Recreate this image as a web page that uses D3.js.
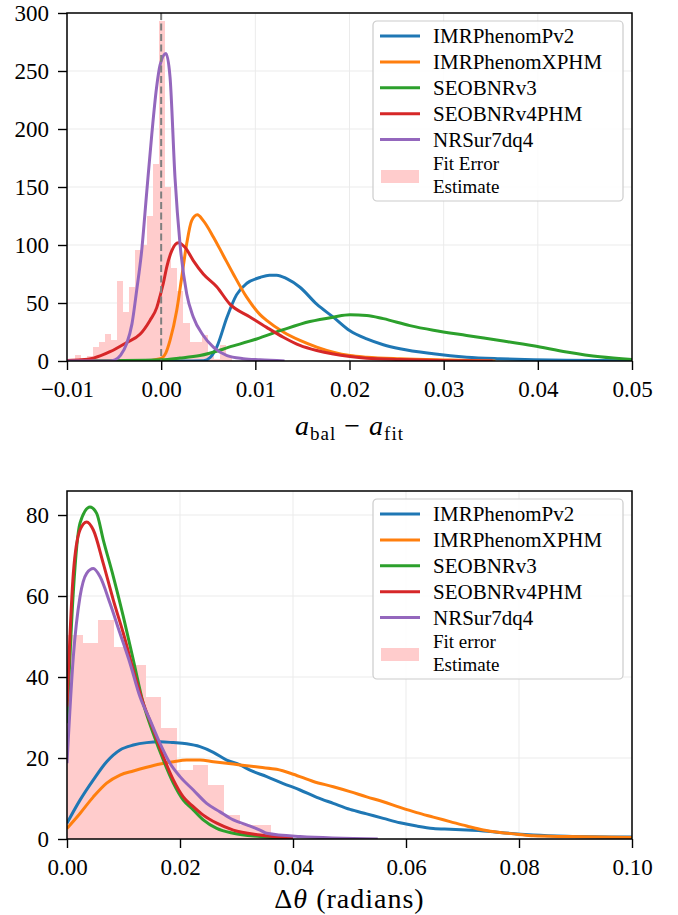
<!DOCTYPE html>
<html>
<head>
<meta charset="utf-8">
<script src="https://cdn.jsdelivr.net/npm/d3@7"></script>
<style>
  body { margin: 0; background: #fff; }
  svg { display: block; }
  text { font-family: "Liberation Serif", "Times New Roman", serif; fill: #000; }
</style>
</head>
<body>
<svg id="chart" width="678" height="915"></svg>
<script>
// ---- data ----
var modelNames = ["IMRPhenomPv2", "IMRPhenomXPHM", "SEOBNRv3", "SEOBNRv4PHM", "NRSur7dq4"];
var modelColors = ["#1f77b4", "#ff7f0e", "#2ca02c", "#d62728", "#9467bd"];

// top panel: a_bal - a_fit
var topXTicks = [-0.01, 0.00, 0.01, 0.02, 0.03, 0.04, 0.05];
var topYTicks = [0, 50, 100, 150, 200, 250, 300];
var topHistStart = -0.00915, topHistStep = 0.00064;
var topHistCounts = [5, 1.5, 4, 12.5, 16, 23, 18, 69, 42, 64, 96, 100, 125, 170, 293, 150, 80, 60, 33, 16, 16, 22, 6, 2, 14, 4];

var topPv2 = [[-0.01,0],[0.002,0],[0.0045,0.3],[0.0052,3],[0.0059,12],[0.0070,38],[0.0080,57],[0.0091,67],[0.0105,72],[0.0115,74],[0.01227,74],[0.01333,71],[0.01474,63.6],[0.01652,49],[0.01828,37.8],[0.02005,26],[0.02183,19],[0.02359,14],[0.02536,10.5],[0.0289,6.2],[0.03244,3.3],[0.03598,1.9],[0.03952,1],[0.04306,0.6],[0.05,0.3]];
var topXphm = [[-0.01,0],[-0.002,0],[-0.0001,2],[0.0005,7],[0.00094,17.7],[0.00165,43.5],[0.00218,72],[0.00271,101],[0.00324,121],[0.00384,126],[0.00447,121],[0.00554,107],[0.0066,91],[0.00766,75],[0.00908,55],[0.0105,40],[0.0112,35],[0.01297,25],[0.01474,17.7],[0.01652,12],[0.01828,7.6],[0.02005,4.7],[0.02183,3.3],[0.02536,1.9],[0.03067,0.8],[0.0355,0]];
var topV3 = [[-0.01,0],[-0.005,0.3],[0,1],[0.002,2.5],[0.00412,4.7],[0.00766,13],[0.01014,19],[0.01297,27],[0.0158,34],[0.01828,37.8],[0.02005,39.8],[0.02183,39.3],[0.02359,36.5],[0.02642,30.5],[0.0289,26.5],[0.03244,22],[0.03598,17.7],[0.03952,13.2],[0.04306,7.8],[0.0466,3.6],[0.05,1.3]];
var topV4 = [[-0.01,0.5],[-0.0085,1],[-0.0072,2.5],[-0.00543,8],[-0.00366,16],[-0.00225,23],[-0.00119,35],[-0.00047,46],[-0.00012,56],[0.00023,67],[0.00059,81],[0.00112,95],[0.00182,102],[0.00253,98],[0.00341,86.6],[0.00447,75],[0.0059,64],[0.0073,49],[0.00943,38],[0.0112,29],[0.01297,20.5],[0.01474,13.4],[0.01652,9],[0.01828,6],[0.02005,3.9],[0.02183,2.4],[0.02536,1.3],[0.03067,0.3],[0.0352,0]];
var topNrs = [[-0.01,0],[-0.0055,0],[-0.0049,1],[-0.0043,5],[-0.00366,15],[-0.0031,32],[-0.0026,61],[-0.00207,95],[-0.00154,145],[-0.001,195],[-0.0005,235],[-0.00012,255],[0.00051,265],[0.00094,245],[0.00147,158],[0.0020,101],[0.00271,58],[0.00341,38],[0.00447,22],[0.00554,12],[0.0070,4.7],[0.00872,2],[0.0105,1],[0.0131,0]];

// bottom panel: delta theta
var botXTicks = [0.00, 0.02, 0.04, 0.06, 0.08, 0.10];
var botYTicks = [0, 20, 40, 60, 80];
var botHistStart = 0, botHistStep = 0.00278;
var botHistCounts = [50.4, 48.5, 54, 47.3, 43, 35, 27.5, 17, 18.3, 13.3, 5.9, 3.5, 3.5];

var botPv2 = [[0,3.9],[0.0023,9.6],[0.00466,14.6],[0.00702,19.1],[0.00938,22],[0.01174,23.2],[0.0141,23.8],[0.01646,24],[0.01882,23.8],[0.02118,23.5],[0.02354,22.8],[0.0259,21.4],[0.02826,19.5],[0.03062,18.3],[0.03239,17],[0.03535,15.4],[0.03828,13.7],[0.04124,12.1],[0.0442,10.3],[0.04713,8.8],[0.05009,7.3],[0.05304,6.2],[0.05598,5.1],[0.05894,4],[0.0619,3.2],[0.06483,2.6],[0.06779,2.4],[0.07074,2.2],[0.07368,2],[0.07664,1.6],[0.08253,1],[0.08844,0.7],[0.1,0.5]];
var botXphm = [[0,2.6],[0.0023,6.3],[0.00466,10.4],[0.00702,13.8],[0.00938,15.8],[0.01174,16.8],[0.0141,17.7],[0.01646,18.5],[0.01882,19.1],[0.02118,19.5],[0.02354,19.5],[0.0259,19.1],[0.02826,18.7],[0.03062,18.3],[0.03416,17.7],[0.03711,17.2],[0.04005,16],[0.0436,14.2],[0.04713,12.9],[0.05009,11.7],[0.05304,10.4],[0.05598,9.2],[0.05894,7.8],[0.0619,6.5],[0.06483,5.4],[0.06779,4.3],[0.07074,3.2],[0.07368,2.2],[0.07664,1.6],[0.07959,1.2],[0.08253,0.8],[0.08844,0.6],[0.1,0.4]];
var botV3 = [[0,28.6],[0.00112,61],[0.0023,78],[0.00407,82],[0.00525,80.4],[0.00643,73.8],[0.0082,64.8],[0.00997,54.9],[0.01174,44.2],[0.0135,33.5],[0.01528,26],[0.01705,19.5],[0.01882,13.8],[0.02058,9.6],[0.02235,7.2],[0.02412,4.7],[0.0265,2.6],[0.02944,1.4],[0.03416,0.6],[0.04,0.1]];
var botV4 = [[0,32.7],[0.00112,65.6],[0.0023,76.3],[0.00348,78.3],[0.00466,76.3],[0.00643,68],[0.0082,59],[0.00997,50.8],[0.01174,41.7],[0.0135,33.5],[0.01528,27],[0.01705,20.3],[0.01882,14.6],[0.02058,10.4],[0.02235,8],[0.02412,5.9],[0.0265,3.9],[0.02944,2.2],[0.03416,1],[0.04,0.2]];
var botNrs = [[0,18.7],[0.00112,45],[0.0023,59.8],[0.00348,65.6],[0.00466,66.8],[0.00584,64.8],[0.00761,58.2],[0.00938,50.8],[0.01115,43.4],[0.01292,35.1],[0.01469,29.4],[0.01646,23.6],[0.01823,18.7],[0.02,15.4],[0.02236,12.1],[0.02472,8.8],[0.02708,6.7],[0.02944,4.7],[0.0318,3.5],[0.03416,2.2],[0.03535,1.4],[0.04124,0.6],[0.055,0]];

var topLegendLabels = modelNames.concat(["Fit Error", "Estimate"]);
var botLegendLabels = modelNames.concat(["Fit error", "Estimate"]);

// ---- drawing ----
var svg = d3.select("#chart");
var plotLeft = 67, plotRight = 632;
var serif = "'Liberation Serif', 'Times New Roman', serif";

function drawPanel(cfg) {
    var x = d3.scaleLinear().domain(cfg.xDomain).range([plotLeft, plotRight]);
    var y = d3.scaleLinear().domain(cfg.yDomain).range([cfg.bottom, cfg.top]);
    var g = svg.append("g");
    var clipId = "clip" + cfg.id;
    svg.append("clipPath").attr("id", clipId)
        .append("rect")
        .attr("x", plotLeft).attr("y", cfg.top)
        .attr("width", plotRight - plotLeft).attr("height", cfg.bottom - cfg.top);

    // grid
    g.selectAll(".gx").data(cfg.xTicks).enter().append("line")
        .attr("x1", function (d) { return x(d); }).attr("x2", function (d) { return x(d); })
        .attr("y1", cfg.top).attr("y2", cfg.bottom)
        .style("stroke", "#ebebeb").style("stroke-width", 1);
    g.selectAll(".gy").data(cfg.yTicks).enter().append("line")
        .attr("x1", plotLeft).attr("x2", plotRight)
        .attr("y1", function (d) { return y(d); }).attr("y2", function (d) { return y(d); })
        .style("stroke", "#ebebeb").style("stroke-width", 1);

    var inner = g.append("g").attr("clip-path", "url(#" + clipId + ")");

    // histogram
    inner.selectAll(".bar").data(cfg.hist).enter().append("rect")
        .attr("x", function (d, i) { return x(cfg.histStart + i * cfg.histStep); })
        .attr("width", function (d, i) {
            return x(cfg.histStart + (i + 1) * cfg.histStep) - x(cfg.histStart + i * cfg.histStep);
        })
        .attr("y", function (d) { return y(d); })
        .attr("height", function (d) { return y(0) - y(d); })
        .style("fill", "#ffcccc")
        .style("shape-rendering", "crispEdges");

    // curves
    var line = d3.line()
        .x(function (d) { return x(d[0]); })
        .y(function (d) { return y(d[1]); })
        .curve(d3.curveMonotoneX);
    cfg.series.forEach(function (s, i) {
        inner.append("path")
            .attr("d", line(s))
            .style("fill", "none")
            .style("stroke", modelColors[i])
            .style("stroke-width", 3)
            .style("stroke-linejoin", "round");
    });

    if (cfg.zeroLine) {
        inner.append("line")
            .attr("x1", x(0)).attr("x2", x(0))
            .attr("y1", cfg.top).attr("y2", cfg.bottom)
            .style("stroke", "#7f7f7f")
            .style("stroke-width", 2)
            .style("stroke-dasharray", "7,3.5");
    }

    // axes
    var xAxis = d3.axisBottom(x).tickValues(cfg.xTicks).tickFormat(d3.format(".2f"))
        .tickSize(9).tickPadding(10);
    var yAxis = d3.axisLeft(y).tickValues(cfg.yTicks).tickFormat(d3.format("d"))
        .tickSize(9).tickPadding(9);
    var gx = g.append("g").attr("transform", "translate(0," + cfg.bottom + ")").call(xAxis);
    var gy = g.append("g").attr("transform", "translate(" + plotLeft + ",0)").call(yAxis);
    [gx, gy].forEach(function (a) {
        a.attr("font-family", null).attr("font-size", null);
        a.select(".domain").remove();
        a.selectAll(".tick line").style("stroke", "#000").style("stroke-width", 1.4);
        a.selectAll(".tick text")
            .style("font-family", serif)
            .style("font-size", "23px")
            .style("fill", "#000");
    });
    gx.selectAll(".tick text").attr("dy", "0.72em");
    gy.selectAll(".tick text").attr("dy", "0.34em");

    // frame
    g.append("rect")
        .attr("x", plotLeft).attr("y", cfg.top)
        .attr("width", plotRight - plotLeft).attr("height", cfg.bottom - cfg.top)
        .style("fill", "none").style("stroke", "#000").style("stroke-width", 1.5);

    // legend
    var lg = g.append("g").attr("transform", "translate(0," + cfg.legendTop + ")");
    lg.append("rect")
        .attr("x", 373).attr("y", 0).attr("width", 250).attr("height", 180)
        .attr("rx", 4).attr("ry", 4)
        .style("fill", "#fff").style("fill-opacity", 0.85)
        .style("stroke", "#cccccc").style("stroke-width", 1.2);
    modelNames.forEach(function (name, i) {
        var cy = 15 + i * 25.9;
        lg.append("line")
            .attr("x1", 380).attr("x2", 420).attr("y1", cy).attr("y2", cy)
            .style("stroke", modelColors[i]).style("stroke-width", 3);
        lg.append("text")
            .attr("x", 433).attr("y", cy).attr("dy", "0.33em")
            .style("font-size", "21px")
            .text(cfg.legendLabels[i]);
    });
    lg.append("rect")
        .attr("x", 381).attr("y", 149).attr("width", 38).attr("height", 13)
        .style("fill", "#ffcccc");
    lg.append("text").attr("x", 433).attr("y", 143).attr("dy", "0.33em")
        .style("font-size", "19px").text(cfg.legendLabels[5]);
    lg.append("text").attr("x", 433).attr("y", 165.5).attr("dy", "0.33em")
        .style("font-size", "19px").text(cfg.legendLabels[6]);

    return { x: x, y: y };
}

drawPanel({
    id: "top", top: 13, bottom: 361,
    xDomain: [-0.01, 0.05], yDomain: [0, 300],
    xTicks: topXTicks, yTicks: topYTicks,
    hist: topHistCounts, histStart: topHistStart, histStep: topHistStep,
    series: [topPv2, topXphm, topV3, topV4, topNrs],
    zeroLine: true,
    legendTop: 21,
    legendLabels: topLegendLabels
});

drawPanel({
    id: "bot", top: 491, bottom: 839,
    xDomain: [0, 0.10], yDomain: [0, 85.93],
    xTicks: botXTicks, yTicks: botYTicks,
    hist: botHistCounts, histStart: botHistStart, histStep: botHistStep,
    series: [botPv2, botXphm, botV3, botV4, botNrs],
    zeroLine: false,
    legendTop: 499,
    legendLabels: botLegendLabels
});

// axis titles
var t1 = svg.append("text")
    .attr("x", 349.5).attr("y", 435)
    .attr("text-anchor", "middle")
    .style("font-size", "28px")
    .style("letter-spacing", "1px");
t1.append("tspan").style("font-style", "italic").text("a");
t1.append("tspan").attr("dy", 5).style("font-size", "19px").text("bal");
t1.append("tspan").attr("dy", -5).text(" \u2212 ");
t1.append("tspan").style("font-style", "italic").text("a");
t1.append("tspan").attr("dy", 5).style("font-size", "19px").text("fit");

var t2 = svg.append("text")
    .attr("x", 349.5).attr("y", 908)
    .attr("text-anchor", "middle")
    .style("font-size", "28px")
    .style("letter-spacing", "1px");
t2.append("tspan").text("\u0394");
t2.append("tspan").style("font-style", "italic").text("\u03b8");
t2.append("tspan").text(" (radians)");
</script>
</body>
</html>
